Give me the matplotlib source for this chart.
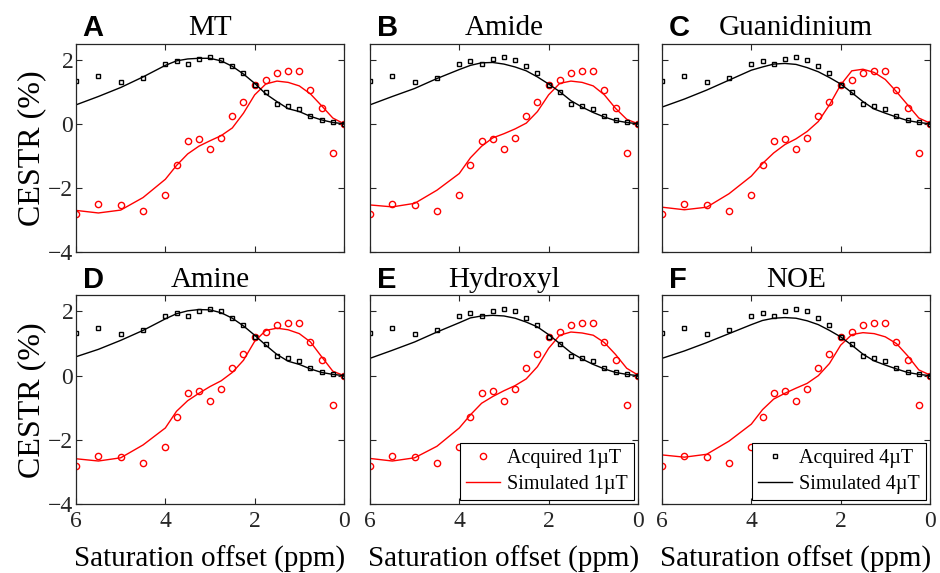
import numpy as np
import matplotlib
matplotlib.use('Agg')
from matplotlib import pyplot as plt

plt.rcParams['font.family'] = ['Liberation Serif', 'DejaVu Serif']

# saturation offsets (ppm)
offsets = [6, 5.5, 5, 4.5, 4, 3.75, 3.5, 3.25, 3, 2.75, 2.5, 2.25, 2,
           1.75, 1.5, 1.25, 1, 0.75, 0.5, 0.25, 0]

# acquired data (same in every panel)
acq_1uT = [-2.82, -2.49, -2.52, -2.73, -2.21, -1.30, -0.54, -0.49, -0.79, -0.43, 0.23,
           0.69, 1.22, 1.36, 1.58, 1.63, 1.64, 1.05, 0.48, -0.91, 0.0]
acq_4uT = [1.33, 1.50, 1.29, 1.42, 1.85, 1.96, 1.85, 2.03, 2.07, 2.00, 1.79,
           1.57, 1.20, 0.99, 0.62, 0.54, 0.45, 0.24, 0.12, 0.06, 0.0]

# simulated curves per pool
sim_1uT = {
    'MT':          [-2.70, -2.78, -2.69, -2.30, -1.73, -1.30, -0.94, -0.70, -0.53, -0.37, -0.13,
                    0.33, 0.90, 1.24, 1.33, 1.29, 1.18, 0.93, 0.56, 0.18, 0.0],
    'Amide':       [-2.53, -2.59, -2.48, -2.07, -1.55, -1.06, -0.70, -0.44, -0.31, -0.16, 0.02,
                    0.38, 0.90, 1.26, 1.33, 1.29, 1.18, 0.90, 0.48, 0.14, 0.0],
    'Guanidinium': [-2.60, -2.68, -2.60, -2.18, -1.63, -1.24, -0.91, -0.65, -0.47, -0.24, 0.07,
                    0.59, 1.21, 1.65, 1.70, 1.60, 1.38, 1.00, 0.59, 0.18, 0.02],
    'Amine':       [-2.59, -2.66, -2.56, -2.16, -1.63, -1.11, -0.78, -0.55, -0.34, -0.16, 0.10,
                    0.48, 1.07, 1.41, 1.48, 1.43, 1.31, 1.05, 0.59, 0.14, 0.0],
    'Hydroxyl':    [-2.58, -2.66, -2.56, -2.20, -1.63, -1.22, -0.86, -0.65, -0.47, -0.31, -0.10,
                    0.28, 0.85, 1.26, 1.36, 1.33, 1.26, 1.03, 0.66, 0.23, 0.02],
    'NOE':         [-2.47, -2.54, -2.45, -2.04, -1.51, -1.06, -0.73, -0.55, -0.39, -0.24, 0.0,
                    0.38, 0.95, 1.28, 1.34, 1.31, 1.21, 1.00, 0.62, 0.18, 0.02],
}
sim_4uT = {
    'MT':          [0.59, 0.85, 1.13, 1.46, 1.82, 1.96, 2.02, 2.04, 2.04, 1.96, 1.79,
                    1.55, 1.26, 0.93, 0.69, 0.47, 0.38, 0.23, 0.12, 0.04, 0.0],
    'Amide':       [0.59, 0.85, 1.10, 1.41, 1.69, 1.82, 1.90, 1.91, 1.86, 1.77, 1.65,
                    1.46, 1.24, 1.00, 0.72, 0.52, 0.35, 0.21, 0.10, 0.04, 0.0],
    'Guanidinium': [0.52, 0.77, 1.05, 1.36, 1.67, 1.77, 1.86, 1.88, 1.85, 1.75, 1.62,
                    1.44, 1.24, 0.97, 0.69, 0.46, 0.33, 0.21, 0.10, 0.04, 0.0],
    'Amine':       [0.59, 0.82, 1.10, 1.41, 1.77, 1.93, 2.02, 2.06, 2.05, 1.96, 1.79,
                    1.55, 1.26, 0.95, 0.66, 0.45, 0.35, 0.21, 0.10, 0.04, 0.0],
    'Hydroxyl':    [0.54, 0.79, 1.05, 1.36, 1.65, 1.80, 1.86, 1.88, 1.86, 1.79, 1.67,
                    1.52, 1.28, 1.00, 0.72, 0.52, 0.35, 0.21, 0.10, 0.04, 0.0],
    'NOE':         [0.54, 0.77, 1.03, 1.31, 1.59, 1.72, 1.79, 1.81, 1.79, 1.71, 1.59,
                    1.41, 1.21, 0.95, 0.67, 0.46, 0.33, 0.21, 0.10, 0.04, 0.0],
}

pools = ['MT', 'Amide', 'Guanidinium', 'Amine', 'Hydroxyl', 'NOE']
letters = ['A', 'B', 'C', 'D', 'E', 'F']

fig = plt.figure(figsize=(9.4, 5.73), dpi=100)
lefts = [0.0809, 0.3936, 0.7043]
bottoms = [0.560, 0.1204]
w, h = 0.285, 0.364
grey = '#262626'

for i, pool in enumerate(pools):
    row, col = divmod(i, 3)
    ax = fig.add_axes([lefts[col], bottoms[row], w, h])
    ax.plot(offsets, acq_1uT, 'o', mfc='none', mec='red', ms=4.5, mew=1.0, label='Acquired 1\u00b5T')
    ax.plot(offsets, sim_1uT[pool], '-', color='red', lw=1.0, label='Simulated 1\u00b5T')
    ax.plot(offsets, acq_4uT, 's', mfc='none', mec='black', ms=3.0, mew=1.0, label='Acquired 4\u00b5T')
    ax.plot(offsets, sim_4uT[pool], '-', color='black', lw=1.0, label='Simulated 4\u00b5T')

    ax.set_xlim(6, 0)
    ax.set_ylim(-4, 2.5)
    ax.set_xticks([6, 4, 2, 0])
    ax.set_yticks([-4, -2, 0, 2])
    ax.tick_params(direction='in', top=True, right=True, length=4, width=0.8,
                   color=grey, labelcolor=grey, labelsize=17)
    ax.tick_params(axis='y', pad=2)
    ax.tick_params(axis='x', pad=5)
    for sp in ax.spines.values():
        sp.set_color(grey)
        sp.set_linewidth(0.9)
    if col != 0:
        ax.set_yticklabels([])
    else:
        ax.set_ylabel('CESTR (%)', fontsize=23, labelpad=1)
    if row == 0:
        ax.set_xticklabels([])
    else:
        ax.set_xlabel('Saturation offset (ppm)', fontsize=21, labelpad=10)
    ax.set_title(pool, fontsize=21, pad=6)
    ax.text(0.025, 1.038, letters[i], transform=ax.transAxes, fontsize=21,
            fontweight='bold', family='Liberation Sans', va='baseline', ha='left')

    # legends only in the two lower right panels
    if pool in ('Hydroxyl', 'NOE'):
        hs, ls = ax.get_legend_handles_labels()
        pick = slice(0, 2) if pool == 'Hydroxyl' else slice(2, 4)
        leg = ax.legend(hs[pick], ls[pick], loc='lower right', fontsize=14.5, fancybox=False,
                        edgecolor='black', framealpha=1, borderaxespad=0.2,
                        handlelength=1.7, handletextpad=0.35, borderpad=0.3,
                        labelspacing=0.35)
        leg.get_frame().set_linewidth(0.8)

fig.savefig('out.png', dpi=100)
